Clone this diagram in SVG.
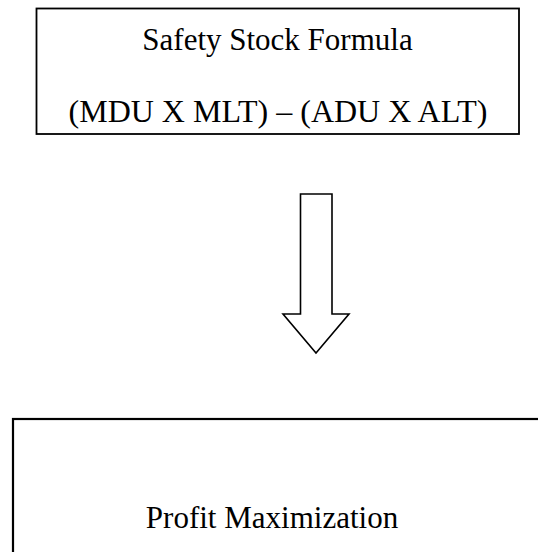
<svg xmlns="http://www.w3.org/2000/svg" width="538" height="552" viewBox="0 0 538 552">
  <style>
    .box { fill: #ffffff; stroke: #000000; stroke-width: 1.8; }
    .label { font-family: "Liberation Serif", "Times New Roman", serif; font-size: 31px; fill: #000000; text-anchor: middle; }
    .formula-line { font-size: 32px; }
    .wide { stroke-width: 2.2; }
    .arrow { fill: #ffffff; stroke: #000000; stroke-width: 1.6; stroke-linejoin: miter; }
  </style>
  <rect width="538" height="552" fill="#ffffff"/>

  <g id="formula">
    <rect class="box" x="36.5" y="8.5" width="482.5" height="125.5"/>
    <text class="label" x="277.5" y="50">Safety Stock Formula</text>
    <text class="label formula-line" x="278" y="122">(MDU X MLT) – (ADU X ALT)</text>
  </g>

  <g id="connectors">
    <path class="arrow" d="M300.5 194 H332 V314 H349 L316 353 L283 314 H300.5 Z"/>
  </g>

  <g id="profit">
    <rect class="box wide" x="13" y="419" width="540" height="150"/>
    <text class="label" x="272" y="528">Profit Maximization</text>
  </g>
</svg>
